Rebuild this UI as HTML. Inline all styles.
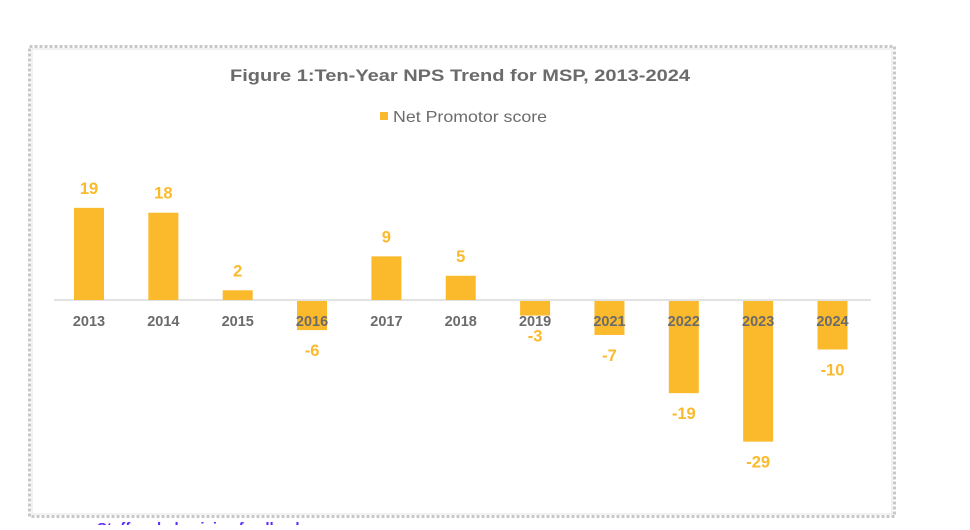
<!DOCTYPE html>
<html><head><meta charset="utf-8"><style>
body{margin:0;background:#fff;width:970px;height:525px;overflow:hidden;font-family:"Liberation Sans",Arial,sans-serif}
</style></head><body>
<svg width="970" height="525" xmlns="http://www.w3.org/2000/svg" font-family="Liberation Sans, Arial, sans-serif">
<rect x="29.5" y="46.5" width="865" height="470" fill="#fff" stroke="#c8c8c8" stroke-width="3" stroke-dasharray="3,2"/>
<rect x="32" y="49" width="860" height="465" fill="none" stroke="#e4e4e4" stroke-width="1"/>
<text x="230" y="81" font-size="17" font-weight="bold" fill="#6b6b6b" textLength="460" lengthAdjust="spacingAndGlyphs">Figure 1:Ten-Year NPS Trend for MSP, 2013-2024</text>
<rect x="380" y="112" width="8" height="8" fill="#FBBA2B"/>
<text x="393" y="122" font-size="16" fill="#6b6b6b" textLength="154" lengthAdjust="spacingAndGlyphs">Net Promotor score</text>
<line x1="54" y1="300" x2="871" y2="300" stroke="#d9d9d9" stroke-width="1.5"/>
<g id="bars"></g>
<text x="97" y="533" font-size="15" font-weight="bold" fill="#5b2bff">Staff and physician feedback</text>
</svg>
<script>
var d=[["2013",19],["2014",18],["2015",2],["2016",-6],["2017",9],["2018",5],["2019",-3],["2021",-7],["2022",-19],["2023",-29],["2024",-10]];
var g=document.getElementById('bars'),s='',k=4.85;
d.forEach(function(e,i){var cx=89+i*74.35,v=e[1],h=Math.abs(v)*k;
var y=v>0?300-h:301;
s+='<rect x="'+(cx-15)+'" y="'+y+'" width="30" height="'+h+'" fill="#FBBA2B"/>';
s+='<text x="'+cx+'" y="326" text-anchor="middle" font-size="14.5" font-weight="bold" fill="#6b6b6b">'+e[0]+'</text>';
var ly=v>0?300-h-14:301+h+26;
s+='<text x="'+cx+'" y="'+ly+'" text-anchor="middle" font-size="16.5" font-weight="bold" fill="#FBBA2B">'+v+'</text>';});
g.innerHTML=s;
</script>
</body></html>
